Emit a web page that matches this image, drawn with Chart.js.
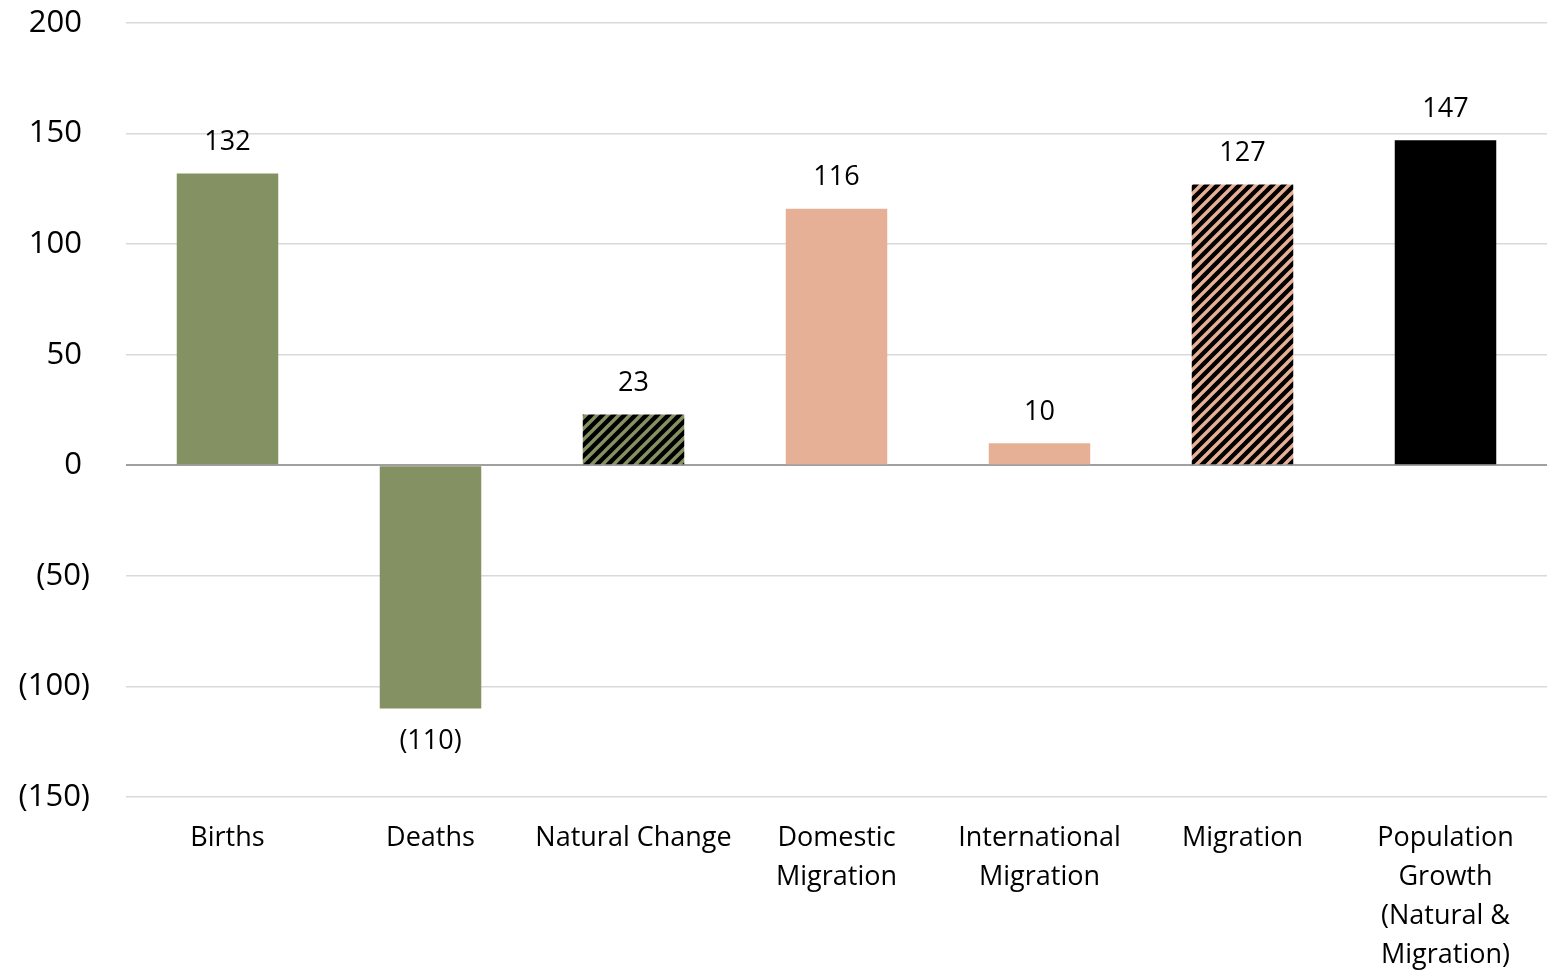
<!DOCTYPE html>
<html>
<head>
<meta charset="utf-8">
<script src="https://cdn.jsdelivr.net/npm/chart.js@4.4.1/dist/chart.umd.min.js"></script>
<style>
  html, body { margin: 0; padding: 0; background: #ffffff; }
  #wrap { width: 1547px; height: 971px; }
</style>
</head>
<body>
<div id="wrap"><canvas id="chart" width="1547" height="971"></canvas></div>
<script>
// Components of population change (thousands)
const categories = [
  'Births',
  'Deaths',
  'Natural Change',
  ['Domestic', 'Migration'],
  ['International', 'Migration'],
  'Migration',
  ['Population', 'Growth', '(Natural &', 'Migration)']
];
const values = [132, -110, 23, 116, 10, 127, 147];
const yTicks = { min: -150, max: 200, step: 50 };

const GREEN = '#849163';
const SALMON = '#e5b096';
const FONT = "'Open Sans', 'Liberation Sans', sans-serif";

// diagonal stripe fill: coloured lines on black
function stripes(color) {
  const s = 11;
  const c = document.createElement('canvas');
  c.width = s; c.height = s;
  const g = c.getContext('2d');
  g.fillStyle = '#000000';
  g.fillRect(0, 0, s, s);
  g.strokeStyle = color;
  g.lineWidth = 3.4;
  g.beginPath();
  g.moveTo(-1, s + 1); g.lineTo(s + 1, -1);
  g.moveTo(-s / 2, s / 2); g.lineTo(s / 2, -s / 2);
  g.moveTo(s / 2, s + s / 2); g.lineTo(s + s / 2, s / 2);
  g.stroke();
  return g.createPattern(c, 'repeat');
}

const fills = [GREEN, GREEN, stripes(GREEN), SALMON, SALMON, stripes(SALMON), '#000000'];

const fmt = v => v < 0 ? '(' + Math.abs(v) + ')' : String(v);
// axis format keeps positive digits aligned with the ones inside parentheses
const fmtAxis = v => v < 0 ? '(' + Math.abs(v) + ')' : String(v) + ' ';

// value labels above positive bars, below negative ones
const valueLabels = {
  id: 'valueLabels',
  afterDatasetsDraw(chart) {
    const ctx = chart.ctx;
    const meta = chart.getDatasetMeta(0);
    ctx.save();
    ctx.font = '27px ' + FONT;
    ctx.fillStyle = '#000000';
    ctx.textAlign = 'center';
    ctx.textBaseline = 'middle';
    meta.data.forEach((bar, i) => {
      const v = values[i];
      const y = v >= 0 ? bar.y - 31 : bar.y + 33;
      ctx.fillText(fmt(v), bar.x, y);
    });
    ctx.restore();
  }
};

new Chart(document.getElementById('chart'), {
  type: 'bar',
  data: {
    labels: categories,
    datasets: [{
      data: values,
      backgroundColor: fills,
      borderWidth: 0,
      barPercentage: 0.5,
      categoryPercentage: 1.0
    }]
  },
  options: {
    responsive: false,
    animation: false,
    layout: { padding: { top: 23, right: 0, left: 0, bottom: 0 } },
    plugins: { legend: { display: false }, tooltip: { enabled: false } },
    scales: {
      x: {
        grid: { display: false, drawTicks: false },
        border: { display: false },
        ticks: {
          color: '#000000',
          font: { family: FONT, size: 27, lineHeight: 1.44 },
          padding: 22,
          maxRotation: 0,
          autoSkip: false
        },
        afterFit(scale) { scale.height = 174; }
      },
      y: {
        min: yTicks.min,
        max: yTicks.max,
        border: { display: false },
        grid: {
          drawTicks: true,
          tickLength: 36,
          tickColor: 'rgba(0,0,0,0)',
          color: ctx => ctx.tick && ctx.tick.value === 0 ? '#a0a0a0' : '#d9d9d9',
          lineWidth: ctx => ctx.tick && ctx.tick.value === 0 ? 2 : 1.5
        },
        ticks: {
          stepSize: yTicks.step,
          color: '#000000',
          font: { family: FONT, size: 31, lineHeight: 1.0 },
          padding: 0,
          callback: v => fmtAxis(v)
        },
        afterFit(scale) { scale.width = 126; }
      }
    }
  },
  plugins: [valueLabels]
});
</script>
</body>
</html>
